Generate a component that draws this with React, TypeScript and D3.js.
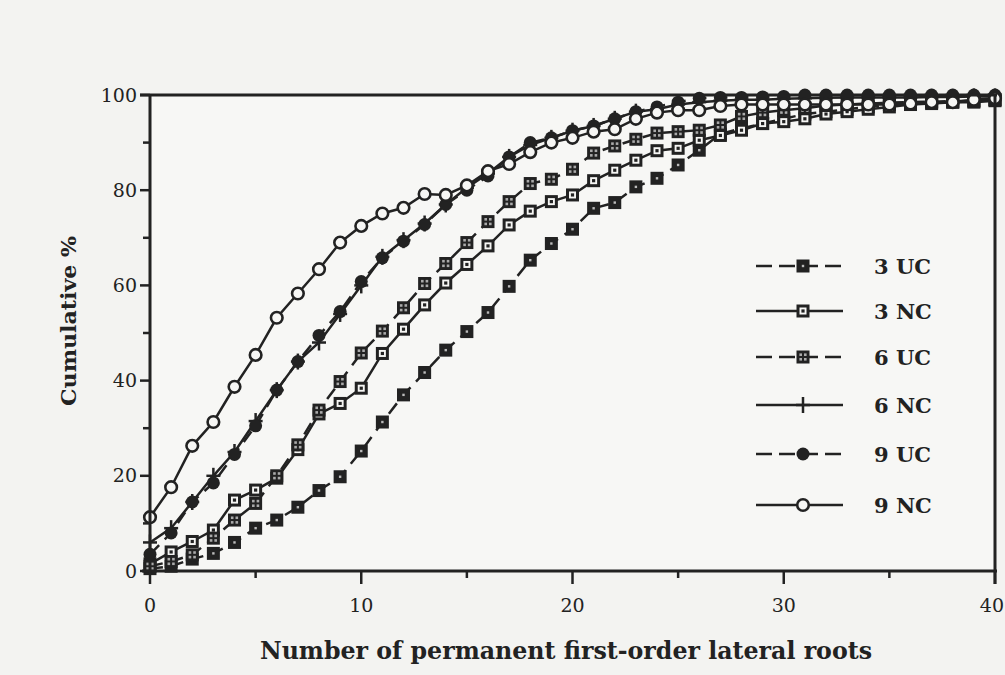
import React from "react";
import * as d3 from "d3";

const roots = [0,1,2,3,4,5,6,7,8,9,10,11,12,13,14,15,16,17,18,19,20,21,22,23,24,25,26,27,28,29,30,31,32,33,34,35,36,37,38,39,40];
const uc3 = [0.5,1,2.5,3.7,6,9,10.7,13.4,16.9,19.8,25.2,31.3,37,41.7,46.4,50.3,54.3,59.8,65.3,68.8,71.8,76.2,77.4,80.7,82.5,85.3,88.4,91.8,93,94,95,96,96.5,97,97.5,98,98.3,98.5,98.5,98.7,99];
const nc3 = [1.5,4,6.2,8.6,14.9,17,19.5,25.5,33,35.2,38.4,45.7,50.8,55.9,60.5,64.4,68.3,72.7,75.6,77.6,79,82,84.2,86.3,88.3,88.8,90.5,91.5,92.6,94,94.4,95,96,96.5,97,97.5,98,98.2,98.5,98.5,98.8];
const uc6 = [1,2,3.4,6.9,10.7,14.2,20,26.5,33.8,39.8,45.8,50.4,55.3,60.4,64.6,69,73.4,77.6,81.4,82.3,84.4,87.8,89.3,90.7,92,92.3,92.6,93.7,95.5,96.3,96.8,97.2,97.8,98,98.2,98.4,98.5,98.6,98.7,98.8,99];
const nc6 = [6,9,14.5,20,25,31.5,38,44,48,54,60,66,69.5,73,77,80.5,83.5,87,89.5,91,92.5,93.5,95,96.5,97,98,98.5,98.8,99,99,99.2,99.3,99.4,99.5,99.5,99.5,99.5,99.6,99.6,99.7,99.7];
const uc9 = [3.5,8,14.5,18.5,24.5,30.5,38,44,49.5,54.5,60.8,65.8,69.3,72.8,77,80,83,87,90,91,92.5,93.5,95,96.5,97.5,98.5,99.3,99.5,99.5,99.6,99.7,100,100,100,100,100,100,100,100,100,100];
const nc9 = [11.3,17.6,26.3,31.3,38.7,45.4,53.2,58.3,63.4,69,72.5,75.1,76.3,79.2,79,81,84,85.5,88,90,91,92.3,92.8,95,96.3,96.8,96.8,97.7,98,98,98,98,98,98,98,98,98.2,98.5,98.5,99,99.3];

const seriesNames = ["3 UC", "3 NC", "6 UC", "6 NC", "9 UC", "9 NC"];
const seriesValues = [uc3, nc3, uc6, nc6, uc9, nc9];
const seriesMarker = ["sqDot", "sqOpen", "sqGrid", "plus", "circFill", "circOpen"];
const seriesDashed = [true, false, true, false, true, false];

const xTickMajor = [0, 10, 20, 30, 40];
const xTickMinor = [5, 15, 25, 35];
const yTickMajor = [0, 20, 40, 60, 80, 100];
const yTickMinor = [10, 30, 50, 70, 90];

const INK = "#222";
const FONT = "'DejaVu Serif', 'Liberation Serif', serif";

function Marker({ type, x, y }: { type: string; x: number; y: number }) {
  const s = 13;
  if (type === "sqDot") {
    return (
      <g>
        <rect x={x - s / 2} y={y - s / 2} width={s} height={s} fill={INK} />
        <rect x={x - 1.2} y={y - 1.2} width={2.4} height={2.4} fill="#bbb" />
      </g>
    );
  }
  if (type === "sqOpen") {
    return (
      <g>
        <rect x={x - s / 2 + 1.5} y={y - s / 2 + 1.5} width={s - 3} height={s - 3} fill="#f6f6f4" stroke={INK} strokeWidth={3} />
        <rect x={x - 1.6} y={y - 1.6} width={3.2} height={3.2} fill={INK} />
      </g>
    );
  }
  if (type === "sqGrid") {
    return (
      <g>
        <rect x={x - s / 2} y={y - s / 2} width={s} height={s} fill={INK} />
        <rect x={x - 3.6} y={y - 3.6} width={2.6} height={2.6} fill="#aaa" />
        <rect x={x + 1} y={y - 3.6} width={2.6} height={2.6} fill="#aaa" />
        <rect x={x - 3.6} y={y + 1} width={2.6} height={2.6} fill="#aaa" />
        <rect x={x + 1} y={y + 1} width={2.6} height={2.6} fill="#aaa" />
      </g>
    );
  }
  if (type === "plus") {
    return (
      <g stroke={INK} strokeWidth={2.5}>
        <line x1={x - 7} x2={x + 7} y1={y} y2={y} />
        <line x1={x} x2={x} y1={y - 8} y2={y + 8} />
      </g>
    );
  }
  if (type === "circFill") {
    return <circle cx={x} cy={y} r={6.5} fill={INK} />;
  }
  return <circle cx={x} cy={y} r={5.8} fill="#f6f6f4" stroke={INK} strokeWidth={2.6} />;
}

export default function App() {
  const W = 1005;
  const H = 675;
  const x = d3.scaleLinear().domain([0, 40]).range([150, 995]);
  const y = d3.scaleLinear().domain([0, 100]).range([571, 95]);
  const line = d3
    .line<number>()
    .x((_, i) => x(roots[i]))
    .y((d) => y(d));

  const legendRows = [266, 311, 357, 405, 454, 505];

  return (
    <svg width={W} height={H} style={{ position: "absolute", left: 0, top: 0, background: "#f3f3f1" }}>
      <rect x={0} y={0} width={W} height={H} fill="#f3f3f1" />
      <rect x={150} y={95} width={845} height={476} fill="#f7f7f5" />

      {/* series */}
      {seriesValues.map((vals, si) => (
        <path
          key={"l" + si}
          d={line(vals) || ""}
          fill="none"
          stroke={INK}
          strokeWidth={2.5}
          strokeDasharray={seriesDashed[si] ? "13 8" : undefined}
        />
      ))}
      {seriesValues.map((vals, si) => (
        <g key={"m" + si}>
          {vals.map((v, i) => (
            <Marker key={i} type={seriesMarker[si]} x={x(roots[i])} y={y(v)} />
          ))}
        </g>
      ))}

      {/* frame */}
      <line x1={140} x2={997} y1={y(100)} y2={y(100)} stroke={INK} strokeWidth={3} />
      <line x1={x(0)} x2={x(0)} y1={y(100)} y2={y(0) + 1} stroke={INK} strokeWidth={3} />
      <line x1={x(0) - 8} x2={997} y1={y(0)} y2={y(0)} stroke={INK} strokeWidth={3} />
      <line x1={x(40)} x2={x(40)} y1={y(100)} y2={y(0) + 13} stroke={INK} strokeWidth={3} />

      {/* y ticks */}
      {yTickMajor.map((t) => (
        <g key={"ym" + t}>
          <line x1={x(0) - 10} x2={x(0)} y1={y(t)} y2={y(t)} stroke={INK} strokeWidth={2.5} />
          <text x={137} y={y(t) + 6.5} textAnchor="end" fontFamily={FONT} fontSize={19} fill="#222">
            {t}
          </text>
        </g>
      ))}
      {yTickMinor.map((t) => (
        <line key={"yn" + t} x1={x(0) - 7} x2={x(0)} y1={y(t)} y2={y(t)} stroke={INK} strokeWidth={2.5} />
      ))}

      {/* x ticks */}
      {xTickMajor.map((t) => (
        <g key={"xm" + t}>
          <line x1={x(t)} x2={x(t)} y1={y(0)} y2={y(0) + 13} stroke={INK} strokeWidth={2.5} />
          <text
            x={t === 40 ? W - 1 : x(t)}
            y={612}
            textAnchor={t === 40 ? "end" : "middle"}
            fontFamily={FONT}
            fontSize={19}
            fill="#222"
          >
            {t}
          </text>
        </g>
      ))}
      {xTickMinor.map((t) => (
        <line key={"xn" + t} x1={x(t)} x2={x(t)} y1={y(0)} y2={y(0) + 7} stroke={INK} strokeWidth={2.5} />
      ))}

      {/* axis titles */}
      <text
        x={260}
        y={659}
        fontFamily={FONT}
        fontWeight="bold"
        fontSize={24}
        fill="#222"
        textLength={612}
        lengthAdjust="spacingAndGlyphs"
      >
        Number of permanent first-order lateral roots
      </text>
      <text
        transform={`translate(76,${321}) rotate(-90)`}
        textAnchor="middle"
        fontFamily={FONT}
        fontWeight="bold"
        fontSize={21}
        fill="#222"
        textLength={170}
        lengthAdjust="spacingAndGlyphs"
      >
        Cumulative %
      </text>

      {/* legend */}
      {seriesNames.map((name, si) => (
        <g key={"lg" + si}>
          <line
            x1={756}
            x2={843}
            y1={legendRows[si]}
            y2={legendRows[si]}
            stroke={INK}
            strokeWidth={2.5}
            strokeDasharray={seriesDashed[si] ? "16 7" : undefined}
          />
          <Marker type={seriesMarker[si]} x={803} y={legendRows[si]} />
          <text x={874} y={legendRows[si] + 8} fontFamily={FONT} fontWeight="bold" fontSize={21} fill="#222">
            {name}
          </text>
        </g>
      ))}
    </svg>
  );
}
